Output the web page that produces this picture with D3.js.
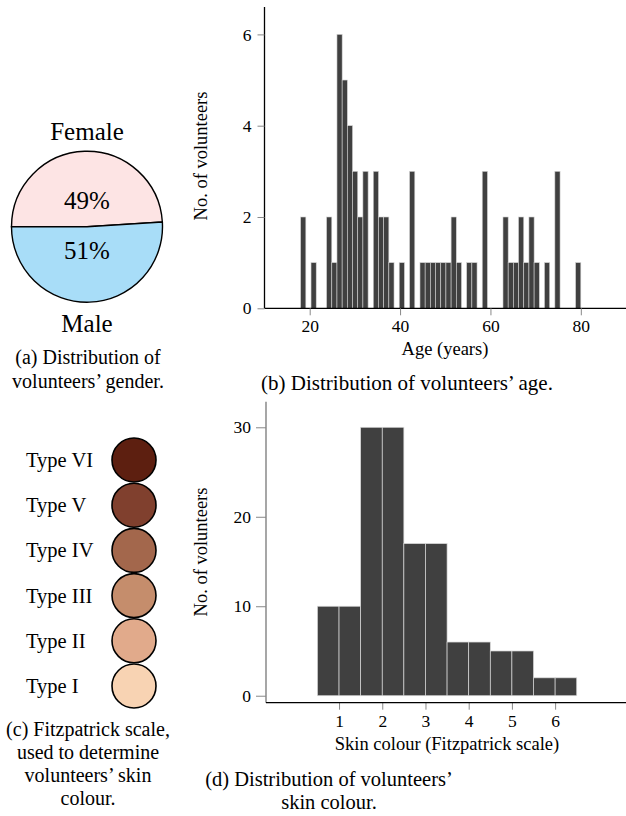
<!DOCTYPE html>
<html>
<head>
<meta charset="utf-8">
<script src="https://cdn.jsdelivr.net/npm/d3@7"></script>
<style>
  body { margin: 0; background: #fff; }
</style>
</head>
<body>
<svg id="fig" width="626" height="816"></svg>
<script>
// gender split
const genders = ["Female", "Male"];
const genderShare = [49, 51];
const genderColors = ["#fde4e4", "#a8ddf8"];

// age histogram: 54 bins from 18 to 80
const ageBinStart = 18, ageBinEnd = 80;
const ageCounts = [2,0,1,0,0,2,1,6,5,4,3,2,3,0,3,2,2,1,0,1,0,3,0,1,1,1,1,1,1,2,1,0,1,1,0,3,0,0,0,2,1,1,2,1,2,1,0,1,0,3,0,0,0,1];
const ageTicks = [20, 40, 60, 80];
const ageYTicks = [0, 2, 4, 6];

// fitzpatrick scale
const fitzTypes = ["Type VI", "Type V", "Type IV", "Type III", "Type II", "Type I"];
const fitzColors = ["#5d1f10", "#80402e", "#a3674c", "#c58d6c", "#e1aa8b", "#f8d3b3"];

// skin colour histogram
const skinTypes = [1, 2, 3, 4, 5, 6];
const skinCounts = [10, 30, 17, 6, 5, 2];
const skinYTicks = [0, 10, 20, 30];

const svg = d3.select("#fig");
const serif = "'Liberation Serif', 'Times New Roman', serif";
const barFill = "#404040";
const tickGrey = "#888";
const fmt = d3.format("d");

function caption(lines, cx, y0, dy, size) {
  lines.forEach((t, i) => {
    svg.append("text").attr("x", cx).attr("y", y0 + i * dy)
      .attr("text-anchor", "middle").attr("font-size", size).text(t);
  });
}

// ---- (a) pie ----
const pieG = svg.append("g").attr("transform", "translate(87,226.7)");
const pie = d3.pie().sort(null).startAngle(-Math.PI / 2).endAngle(1.5 * Math.PI);
const arc = d3.arc().innerRadius(0).outerRadius(75.5);
const arcs = pie(genderShare);
pieG.selectAll("path").data(arcs).join("path")
  .attr("d", arc)
  .attr("fill", (d, i) => genderColors[i])
  .attr("stroke", "#000").attr("stroke-width", 1.4);
pieG.selectAll("text.pct").data(arcs).join("text")
  .attr("class", "pct")
  .attr("x", 0)
  .attr("y", (d, i) => i === 0 ? -17.5 : 32.3)
  .attr("text-anchor", "middle").attr("font-size", 25)
  .text(d => d.data + "%");
svg.append("text").attr("x", 87).attr("y", 140).attr("text-anchor", "middle")
  .attr("font-size", 25).text(genders[0]);
svg.append("text").attr("x", 87).attr("y", 332).attr("text-anchor", "middle")
  .attr("font-size", 25).text(genders[1]);
caption(["(a) Distribution of", "volunteers\u2019 gender."], 88, 364, 24, 20);

// ---- (b) age histogram ----
const ax = d3.scaleLinear().domain([10, 90]).range([264.5, 626]);
const ay = d3.scaleLinear().domain([0, 6.6]).range([308.3, 7]);
const binW = (ageBinEnd - ageBinStart) / ageCounts.length;
const ageBins = ageCounts.map((c, i) => ({ x0: ageBinStart + i * binW, x1: ageBinStart + (i + 1) * binW, n: c }))
  .filter(d => d.n > 0);
svg.append("g").selectAll("rect").data(ageBins).join("rect")
  .attr("x", d => ax(d.x0)).attr("width", d => ax(d.x1) - ax(d.x0))
  .attr("y", d => ay(d.n)).attr("height", d => ay(0) - ay(d.n))
  .attr("fill", barFill).attr("stroke", "#d0d0d0").attr("stroke-width", 0.6);

const axb = svg.append("g").attr("transform", `translate(0,${ay(0)})`)
  .call(d3.axisBottom(ax).tickValues(ageTicks).tickFormat(fmt).tickSize(7).tickPadding(4));
const ayl = svg.append("g").attr("transform", `translate(${ax(10)},0)`)
  .call(d3.axisLeft(ay).tickValues(ageYTicks).tickFormat(fmt).tickSize(7).tickPadding(6));
[axb, ayl].forEach(g => {
  g.select(".domain").attr("stroke", "#000").attr("stroke-width", 1.3);
  g.selectAll(".tick line").attr("stroke", tickGrey);
  g.selectAll(".tick text").attr("font-size", 17.5).attr("fill", "#000");
});
axb.select(".domain").attr("d", `M${ax(10)},0H626`);
ayl.select(".domain").attr("d", `M0,${ay(6.6)}V${ay(0)}`);
svg.append("text").attr("x", 445).attr("y", 355).attr("text-anchor", "middle")
  .attr("font-size", 18.5).text("Age (years)");
svg.append("text").attr("transform", "translate(206.5,156) rotate(-90)")
  .attr("text-anchor", "middle").attr("font-size", 18.5).text("No. of volunteers");
caption(["(b) Distribution of volunteers\u2019 age."], 407, 390, 24, 21);

// ---- (c) fitzpatrick circles ----
const fy = d3.scalePoint().domain(fitzTypes).range([460, 686]);
const fitz = svg.append("g");
fitz.selectAll("circle").data(fitzTypes).join("circle")
  .attr("cx", 134).attr("cy", d => fy(d)).attr("r", 22)
  .attr("fill", (d, i) => fitzColors[i]).attr("stroke", "#000").attr("stroke-width", 1.6);
fitz.selectAll("text").data(fitzTypes).join("text")
  .attr("x", 26).attr("y", d => fy(d) + 7)
  .attr("font-size", 20.5).text(d => d);
caption(["(c) Fitzpatrick scale,", "used to determine", "volunteers\u2019 skin", "colour."], 88, 736, 23, 20);

// ---- (d) skin colour histogram ----
const sx = d3.scaleLinear().domain([-0.69, 7.64]).range([266, 626]);
const sy = d3.scaleLinear().domain([-0.78, 32.86]).range([702.7, 401.7]);
const halves = skinTypes.flatMap((t, i) => [
  { x0: t - 0.5, x1: t, n: skinCounts[i] },
  { x0: t, x1: t + 0.5, n: skinCounts[i] }
]);
svg.append("g").selectAll("rect").data(halves).join("rect")
  .attr("x", d => sx(d.x0)).attr("width", d => sx(d.x1) - sx(d.x0))
  .attr("y", d => sy(d.n)).attr("height", d => sy(0) - sy(d.n))
  .attr("fill", barFill).attr("stroke", "#d8d8d8").attr("stroke-width", 0.7);

const sxb = svg.append("g").attr("transform", `translate(0,${sy(-0.78)})`)
  .call(d3.axisBottom(sx).tickValues(skinTypes).tickFormat(fmt).tickSize(7).tickPadding(5));
const syl = svg.append("g").attr("transform", `translate(${sx(-0.69)},0)`)
  .call(d3.axisLeft(sy).tickValues(skinYTicks).tickFormat(fmt).tickSize(10).tickPadding(5));
[sxb, syl].forEach(g => {
  g.selectAll(".tick line").attr("stroke", tickGrey);
  g.selectAll(".tick text").attr("font-size", 17.5).attr("fill", "#000");
});
sxb.select(".domain").remove();
svg.append("line").attr("x1", sx(-0.69)).attr("x2", 626)
  .attr("y1", sy(-0.78)).attr("y2", sy(-0.78)).attr("stroke", "#000").attr("stroke-width", 1.3);
syl.select(".domain").attr("d", `M0,${sy(32.86)}V${sy(-0.78)}`)
  .attr("stroke", "#777").attr("stroke-width", 1.3);
svg.append("text").attr("x", 447).attr("y", 750).attr("text-anchor", "middle")
  .attr("font-size", 18.5).text("Skin colour (Fitzpatrick scale)");
svg.append("text").attr("transform", "translate(206.5,552) rotate(-90)")
  .attr("text-anchor", "middle").attr("font-size", 18.5).text("No. of volunteers");
caption(["(d) Distribution of volunteers\u2019", "skin colour."], 329, 786, 23, 20.5);

// one serif face for every label
svg.selectAll("text").style("font-family", serif).attr("fill", "#000");
</script>
</body>
</html>
